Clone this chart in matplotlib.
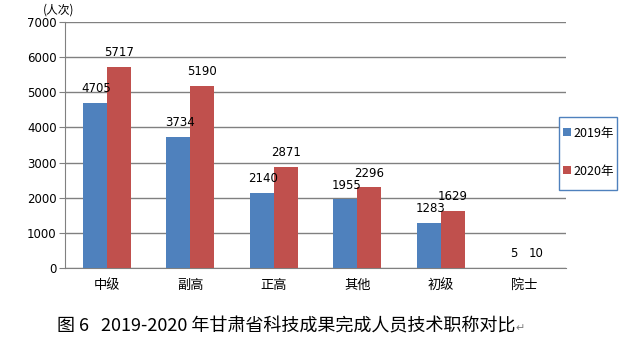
import matplotlib.pyplot as plt
from matplotlib.patches import Rectangle
import numpy as np

plt.rcParams['font.family'] = ['Noto Sans CJK SC', 'DejaVu Sans']

categories = ['中级', '副高', '正高', '其他', '初级', '院士']
y2019 = [4705, 3734, 2140, 1955, 1283, 5]
y2020 = [5717, 5190, 2871, 2296, 1629, 10]
yticks = [0, 1000, 2000, 3000, 4000, 5000, 6000, 7000]

c19 = '#4F81BD'
c20 = '#C0504D'

fig = plt.figure(figsize=(6.24, 3.45), dpi=100)
ax = fig.add_axes([65 / 624, 1 - 268 / 345, (566 - 65) / 624, (268 - 22) / 345])

x = np.arange(len(categories))
w = 0.29
b1 = ax.bar(x - w / 2, y2019, w, color=c19, label='2019年', zorder=3)
b2 = ax.bar(x + w / 2, y2020, w, color=c20, label='2020年', zorder=3)

for rect, v in zip(b1, y2019):
    ax.text(rect.get_x() + rect.get_width() / 2 + 0.02, v + 220, str(v),
            ha='center', va='bottom', fontsize=8.5, family='DejaVu Sans')
for rect, v in zip(b2, y2020):
    ax.text(rect.get_x() + rect.get_width() / 2, v + 220, str(v),
            ha='center', va='bottom', fontsize=8.5, family='DejaVu Sans')

ax.set_xlim(-0.5, len(categories) - 0.5)
ax.set_ylim(0, 7000)
ax.set_yticks(yticks)
ax.set_yticklabels([str(t) for t in yticks], fontsize=8.5, family='DejaVu Sans')
ax.set_xticks(x)
ax.set_xticklabels(categories, fontsize=9.5)
ax.tick_params(axis='x', length=0, pad=8)
ax.tick_params(axis='y', length=4, color='#808080', pad=2)
ax.yaxis.grid(True, color='#808080', linewidth=1, zorder=0)
for s in ['top', 'right']:
    ax.spines[s].set_visible(False)
ax.spines['left'].set_color('#808080')
ax.spines['bottom'].set_color('#808080')

fig.text(43 / 624, 1 - 10 / 345, '(人次)', fontsize=8.5, va='center', ha='left')

# legend box drawn separately so its padding can differ per side
fig.patches.append(Rectangle((559 / 624, 1 - 190 / 345), 58 / 624, 73 / 345,
                             transform=fig.transFigure, facecolor='white',
                             edgecolor='#4F81BD', linewidth=1, zorder=4))
leg = fig.legend(handles=[b1, b2], loc='center left',
                 bbox_to_anchor=(563 / 624, 1 - 152 / 345),
                 fontsize=9, frameon=False,
                 handlelength=0.6, handleheight=0.6, handletextpad=0.25,
                 labelspacing=2.0, borderpad=0, borderaxespad=0)
leg.set_zorder(5)

fig.text(57 / 624, 1 - 326 / 345, '图 6   2019-2020 年甘肃省科技成果完成人员技术职称对比',
         fontsize=13, ha='left', va='center')
fig.text(515 / 624, 1 - 328 / 345, '↵', fontsize=8, color='#808080',
         ha='left', va='center', family=['DejaVu Sans'])

fig.savefig('out.png', dpi=100)
